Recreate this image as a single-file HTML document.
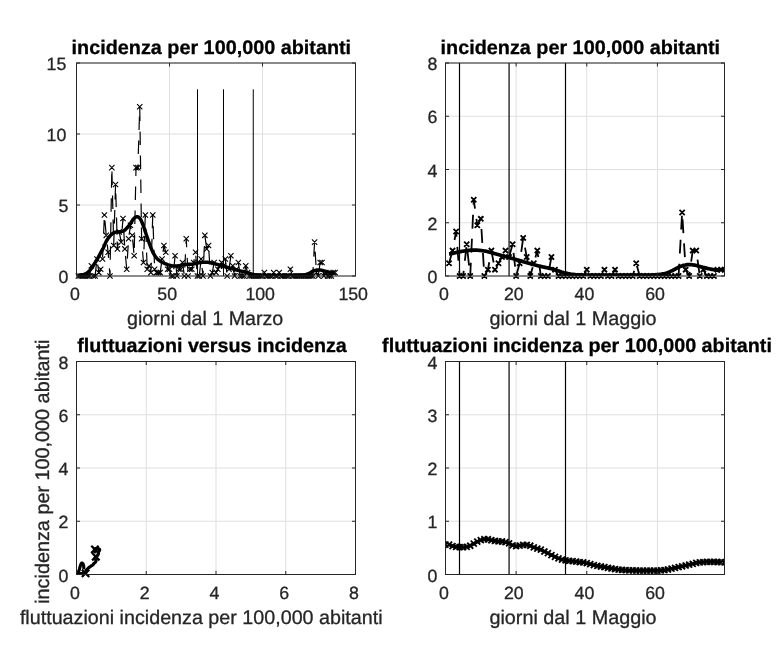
<!DOCTYPE html>
<html><head><meta charset="utf-8"><title>figure</title>
<style>html,body{margin:0;padding:0;background:#fff;}svg{display:block;will-change:transform;}text{font-family:"Liberation Sans",sans-serif;}</style></head>
<body>
<svg width="784" height="658" viewBox="0 0 784 658">
<rect width="784" height="658" fill="#fff"/>
<defs>
<clipPath id="c1"><rect x="76.50" y="63.00" width="279.00" height="213.00"/></clipPath>
<clipPath id="c2"><rect x="445.50" y="63.00" width="279.00" height="213.00"/></clipPath>
<clipPath id="c3"><rect x="76.50" y="361.50" width="279.00" height="213.00"/></clipPath>
<clipPath id="c4"><rect x="445.50" y="361.50" width="279.00" height="213.00"/></clipPath>
</defs>
<path d="M76.50 63.00 V276.00M169.50 63.00 V276.00M262.50 63.00 V276.00M355.50 63.00 V276.00M76.50 276.00 H355.50M76.50 205.00 H355.50M76.50 134.00 H355.50M76.50 63.00 H355.50" stroke="#dfdfdf" stroke-width="1" fill="none"/>
<path d="M445.50 63.00 V276.00M516.13 63.00 V276.00M586.77 63.00 V276.00M657.40 63.00 V276.00M445.50 276.00 H724.50M445.50 222.75 H724.50M445.50 169.50 H724.50M445.50 116.25 H724.50M445.50 63.00 H724.50" stroke="#dfdfdf" stroke-width="1" fill="none"/>
<path d="M76.50 361.50 V574.50M146.25 361.50 V574.50M216.00 361.50 V574.50M285.75 361.50 V574.50M355.50 361.50 V574.50M76.50 574.50 H355.50M76.50 521.25 H355.50M76.50 468.00 H355.50M76.50 414.75 H355.50M76.50 361.50 H355.50" stroke="#dfdfdf" stroke-width="1" fill="none"/>
<path d="M445.50 361.50 V574.50M516.13 361.50 V574.50M586.77 361.50 V574.50M657.40 361.50 V574.50M445.50 574.50 H724.50M445.50 521.25 H724.50M445.50 468.00 H724.50M445.50 414.75 H724.50M445.50 361.50 H724.50" stroke="#dfdfdf" stroke-width="1" fill="none"/>
<g clip-path="url(#c1)">
<path d="M78.36 276.00 L80.22 276.00 L82.08 276.00 L83.94 276.00 L85.80 276.00 L87.66 276.00 L89.52 276.00 L91.38 265.84 L93.24 276.00 L95.10 276.00 L96.96 259.07 L98.82 272.61 L100.68 269.23 L102.54 259.07 L104.40 215.04 L106.26 235.36 L108.12 252.29 L109.98 276.00 L111.84 167.63 L113.70 245.52 L115.56 184.56 L117.42 248.91 L119.28 231.97 L121.14 242.13 L123.00 218.43 L124.86 248.91 L126.72 269.23 L128.58 238.75 L130.44 225.20 L132.30 235.36 L134.16 255.68 L136.02 167.63 L137.88 167.63 L139.74 106.67 L141.60 238.75 L143.46 262.45 L145.32 215.04 L147.18 269.23 L149.04 265.84 L150.90 272.61 L152.76 215.04 L154.62 269.23 L156.48 272.61 L158.34 272.61 L160.20 272.61 L162.06 259.07 L163.92 245.52 L165.78 252.29 L167.64 269.23 L169.50 269.23 L171.36 276.00 L173.22 276.00 L175.08 255.68 L176.94 276.00 L178.80 269.23 L180.66 269.23 L182.52 262.45 L184.38 276.00 L186.24 238.75 L188.10 276.00 L189.96 269.23 L191.82 269.23 L193.68 262.45 L195.54 252.29 L197.40 276.00 L199.26 276.00 L201.12 259.07 L202.98 276.00 L204.84 235.36 L206.70 248.91 L208.56 245.52 L210.42 276.00 L212.28 272.61 L214.14 262.45 L216.00 272.61 L217.86 269.23 L219.72 265.84 L221.58 262.45 L223.44 265.84 L225.30 259.07 L227.16 276.00 L229.02 269.23 L230.88 255.68 L232.74 265.84 L234.60 276.00 L236.46 269.23 L238.32 262.45 L240.18 276.00 L242.04 276.00 L243.90 276.00 L245.76 265.84 L247.62 272.61 L249.48 276.00 L251.34 276.00 L253.20 276.00 L255.06 276.00 L256.92 276.00 L258.78 276.00 L260.64 276.00 L262.50 276.00 L264.36 272.61 L266.22 276.00 L268.08 276.00 L269.94 276.00 L271.80 276.00 L273.66 272.61 L275.52 276.00 L277.38 276.00 L279.24 272.61 L281.10 276.00 L282.96 276.00 L284.82 276.00 L286.68 276.00 L288.54 276.00 L290.40 269.23 L292.26 276.00 L294.12 276.00 L295.98 276.00 L297.84 276.00 L299.70 276.00 L301.56 276.00 L303.42 276.00 L305.28 276.00 L307.14 276.00 L309.00 276.00 L310.86 276.00 L312.72 276.00 L314.58 242.13 L316.44 272.61 L318.30 276.00 L320.16 262.45 L322.02 262.45 L323.88 276.00 L325.74 272.61 L327.60 276.00 L329.46 276.00 L331.32 276.00 L333.18 272.61 L335.04 272.61" stroke="#000" stroke-width="1.2" fill="none" stroke-dasharray="13.5 10.5" stroke-dashoffset="-8.2"/>
<path d="M78.36 275.72 L78.87 275.65 L79.39 275.57 L79.90 275.49 L80.41 275.40 L80.93 275.29 L81.44 275.17 L81.96 275.04 L82.47 274.90 L82.98 274.76 L83.50 274.60 L84.01 274.41 L84.52 274.19 L85.04 273.95 L85.55 273.71 L86.06 273.46 L86.58 273.17 L87.09 272.85 L87.61 272.49 L88.12 272.09 L88.63 271.63 L89.15 271.13 L89.66 270.58 L90.17 270.00 L90.69 269.37 L91.20 268.72 L91.71 268.03 L92.23 267.28 L92.74 266.49 L93.26 265.68 L93.77 264.85 L94.28 264.03 L94.80 263.20 L95.31 262.36 L95.82 261.51 L96.34 260.64 L96.85 259.78 L97.36 258.90 L97.88 258.02 L98.39 257.12 L98.91 256.21 L99.42 255.28 L99.93 254.30 L100.45 253.31 L100.96 252.31 L101.47 251.33 L101.99 250.38 L102.50 249.48 L103.01 248.58 L103.53 247.57 L104.04 246.40 L104.56 245.13 L105.07 243.86 L105.58 242.68 L106.10 241.67 L106.61 240.75 L107.12 239.88 L107.64 239.06 L108.15 238.30 L108.66 237.59 L109.18 236.93 L109.69 236.30 L110.21 235.70 L110.72 235.14 L111.23 234.62 L111.75 234.17 L112.26 233.79 L112.77 233.46 L113.29 233.15 L113.80 232.86 L114.32 232.62 L114.83 232.42 L115.34 232.27 L115.86 232.17 L116.37 232.09 L116.88 232.02 L117.40 231.96 L117.91 231.90 L118.42 231.83 L118.94 231.76 L119.45 231.69 L119.97 231.63 L120.48 231.57 L120.99 231.51 L121.51 231.43 L122.02 231.34 L122.53 231.24 L123.05 231.12 L123.56 230.92 L124.07 230.62 L124.59 230.26 L125.10 229.83 L125.62 229.36 L126.13 228.86 L126.64 228.36 L127.16 227.84 L127.67 227.24 L128.18 226.58 L128.70 225.88 L129.21 225.16 L129.72 224.43 L130.24 223.71 L130.75 223.00 L131.27 222.25 L131.78 221.45 L132.29 220.64 L132.81 219.85 L133.32 219.13 L133.83 218.52 L134.35 218.06 L134.86 217.69 L135.37 217.33 L135.89 217.02 L136.40 216.78 L136.92 216.66 L137.43 216.67 L137.94 216.84 L138.46 217.14 L138.97 217.53 L139.48 217.97 L140.00 218.48 L140.51 219.22 L141.02 220.18 L141.54 221.30 L142.05 222.52 L142.57 223.78 L143.08 225.03 L143.59 226.42 L144.11 227.93 L144.62 229.52 L145.13 231.13 L145.65 232.71 L146.16 234.23 L146.67 235.75 L147.19 237.28 L147.70 238.80 L148.22 240.30 L148.73 241.76 L149.24 243.17 L149.76 244.54 L150.27 245.91 L150.78 247.27 L151.30 248.59 L151.81 249.86 L152.32 251.05 L152.84 252.14 L153.35 253.12 L153.87 254.05 L154.38 254.92 L154.89 255.75 L155.41 256.52 L155.92 257.22 L156.43 257.85 L156.95 258.41 L157.46 258.92 L157.97 259.41 L158.49 259.85 L159.00 260.27 L159.52 260.66 L160.03 261.02 L160.54 261.36 L161.06 261.67 L161.57 261.98 L162.08 262.26 L162.60 262.53 L163.11 262.79 L163.62 263.03 L164.14 263.27 L164.65 263.49 L165.17 263.70 L165.68 263.90 L166.19 264.10 L166.71 264.29 L167.22 264.48 L167.73 264.65 L168.25 264.81 L168.76 264.97 L169.27 265.11 L169.79 265.23 L170.30 265.36 L170.82 265.49 L171.33 265.61 L171.84 265.73 L172.36 265.84 L172.87 265.93 L173.38 266.00 L173.90 266.05 L174.41 266.06 L174.92 266.05 L175.44 266.04 L175.95 266.01 L176.47 265.98 L176.98 265.94 L177.49 265.90 L178.01 265.85 L178.52 265.80 L179.03 265.75 L179.55 265.65 L180.06 265.53 L180.58 265.38 L181.09 265.22 L181.60 265.06 L182.12 264.91 L182.63 264.78 L183.14 264.68 L183.66 264.62 L184.17 264.58 L184.68 264.54 L185.20 264.50 L185.71 264.47 L186.23 264.44 L186.74 264.42 L187.25 264.39 L187.77 264.37 L188.28 264.35 L188.79 264.33 L189.31 264.31 L189.82 264.30 L190.33 264.28 L190.85 264.26 L191.36 264.24 L191.88 264.21 L192.39 264.16 L192.90 264.09 L193.42 263.99 L193.93 263.88 L194.44 263.75 L194.96 263.62 L195.47 263.49 L195.98 263.37 L196.50 263.25 L197.01 263.14 L197.53 263.06 L198.04 262.98 L198.55 262.89 L199.07 262.80 L199.58 262.72 L200.09 262.63 L200.61 262.55 L201.12 262.47 L201.63 262.40 L202.15 262.33 L202.66 262.28 L203.18 262.23 L203.69 262.19 L204.20 262.17 L204.72 262.16 L205.23 262.16 L205.74 262.17 L206.26 262.20 L206.77 262.23 L207.28 262.28 L207.80 262.33 L208.31 262.38 L208.83 262.44 L209.34 262.51 L209.85 262.58 L210.37 262.64 L210.88 262.73 L211.39 262.83 L211.91 262.96 L212.42 263.09 L212.93 263.24 L213.45 263.39 L213.96 263.53 L214.48 263.66 L214.99 263.80 L215.50 263.94 L216.02 264.08 L216.53 264.22 L217.04 264.37 L217.56 264.51 L218.07 264.66 L218.58 264.80 L219.10 264.95 L219.61 265.10 L220.13 265.25 L220.64 265.40 L221.15 265.54 L221.67 265.69 L222.18 265.84 L222.69 265.99 L223.21 266.14 L223.72 266.28 L224.23 266.43 L224.75 266.57 L225.26 266.72 L225.78 266.87 L226.29 267.02 L226.80 267.16 L227.32 267.31 L227.83 267.46 L228.34 267.60 L228.86 267.75 L229.37 267.90 L229.88 268.05 L230.40 268.19 L230.91 268.34 L231.43 268.49 L231.94 268.64 L232.45 268.79 L232.97 268.94 L233.48 269.10 L233.99 269.25 L234.51 269.40 L235.02 269.55 L235.53 269.70 L236.05 269.85 L236.56 269.99 L237.08 270.13 L237.59 270.27 L238.10 270.41 L238.62 270.54 L239.13 270.66 L239.64 270.78 L240.16 270.90 L240.67 271.01 L241.18 271.12 L241.70 271.23 L242.21 271.34 L242.73 271.45 L243.24 271.57 L243.75 271.68 L244.27 271.80 L244.78 271.92 L245.29 272.05 L245.81 272.18 L246.32 272.32 L246.83 272.47 L247.35 272.63 L247.86 272.79 L248.38 272.96 L248.89 273.13 L249.40 273.31 L249.92 273.48 L250.43 273.65 L250.94 273.81 L251.46 273.97 L251.97 274.12 L252.49 274.26 L253.00 274.39 L253.51 274.51 L254.03 274.63 L254.54 274.74 L255.05 274.85 L255.57 274.95 L256.08 275.03 L256.59 275.11 L257.11 275.17 L257.62 275.22 L258.14 275.27 L258.65 275.32 L259.16 275.36 L259.68 275.39 L260.19 275.42 L260.70 275.43 L261.22 275.45 L261.73 275.46 L262.24 275.47 L262.76 275.48 L263.27 275.49 L263.79 275.50 L264.30 275.51 L264.81 275.52 L265.33 275.53 L265.84 275.53 L266.35 275.54 L266.87 275.55 L267.38 275.55 L267.89 275.56 L268.41 275.56 L268.92 275.56 L269.44 275.57 L269.95 275.57 L270.46 275.57 L270.98 275.57 L271.49 275.57 L272.00 275.57 L272.52 275.57 L273.03 275.57 L273.54 275.57 L274.06 275.57 L274.57 275.57 L275.09 275.57 L275.60 275.57 L276.11 275.57 L276.63 275.57 L277.14 275.57 L277.65 275.57 L278.17 275.57 L278.68 275.57 L279.19 275.57 L279.71 275.57 L280.22 275.57 L280.74 275.57 L281.25 275.57 L281.76 275.57 L282.28 275.57 L282.79 275.57 L283.30 275.57 L283.82 275.57 L284.33 275.57 L284.84 275.57 L285.36 275.57 L285.87 275.57 L286.39 275.57 L286.90 275.57 L287.41 275.57 L287.93 275.57 L288.44 275.57 L288.95 275.57 L289.47 275.57 L289.98 275.57 L290.49 275.57 L291.01 275.56 L291.52 275.56 L292.04 275.56 L292.55 275.56 L293.06 275.55 L293.58 275.55 L294.09 275.54 L294.60 275.54 L295.12 275.53 L295.63 275.53 L296.14 275.52 L296.66 275.52 L297.17 275.51 L297.69 275.51 L298.20 275.50 L298.71 275.48 L299.23 275.46 L299.74 275.43 L300.25 275.39 L300.77 275.35 L301.28 275.31 L301.79 275.27 L302.31 275.22 L302.82 275.15 L303.34 275.08 L303.85 275.00 L304.36 274.91 L304.88 274.81 L305.39 274.70 L305.90 274.56 L306.42 274.39 L306.93 274.20 L307.44 273.99 L307.96 273.77 L308.47 273.54 L308.99 273.31 L309.50 273.06 L310.01 272.79 L310.53 272.49 L311.04 272.19 L311.55 271.90 L312.07 271.62 L312.58 271.37 L313.09 271.16 L313.61 270.94 L314.12 270.74 L314.64 270.56 L315.15 270.41 L315.66 270.29 L316.18 270.18 L316.69 270.07 L317.20 269.98 L317.72 269.92 L318.23 269.89 L318.75 269.90 L319.26 269.94 L319.77 269.99 L320.29 270.06 L320.80 270.14 L321.31 270.21 L321.83 270.32 L322.34 270.45 L322.85 270.60 L323.37 270.75 L323.88 270.89 L324.40 271.02 L324.91 271.16 L325.42 271.30 L325.94 271.44 L326.45 271.58 L326.96 271.71 L327.48 271.85 L327.99 271.98 L328.50 272.10 L329.02 272.21 L329.53 272.32 L330.05 272.42 L330.56 272.52 L331.07 272.62 L331.59 272.70 L332.10 272.79 L332.61 272.87 L333.13 272.94 L333.64 273.01 L334.15 273.07 L334.67 273.12" stroke="#000" stroke-width="3.5" fill="none" stroke-linejoin="round" stroke-linecap="butt"/>
<path d="M197.50 276.00 V89.27M223.50 276.00 V89.27M253.25 276.00 V89.27" stroke="#000" stroke-width="1" fill="none"/>
</g>
<path d="M75.71 273.35 l5.30 5.30 M75.71 278.65 l5.30 -5.30M77.57 273.35 l5.30 5.30 M77.57 278.65 l5.30 -5.30M79.43 273.35 l5.30 5.30 M79.43 278.65 l5.30 -5.30M81.29 273.35 l5.30 5.30 M81.29 278.65 l5.30 -5.30M83.15 273.35 l5.30 5.30 M83.15 278.65 l5.30 -5.30M85.01 273.35 l5.30 5.30 M85.01 278.65 l5.30 -5.30M86.87 273.35 l5.30 5.30 M86.87 278.65 l5.30 -5.30M88.73 263.19 l5.30 5.30 M88.73 268.49 l5.30 -5.30M90.59 273.35 l5.30 5.30 M90.59 278.65 l5.30 -5.30M92.45 273.35 l5.30 5.30 M92.45 278.65 l5.30 -5.30M94.31 256.42 l5.30 5.30 M94.31 261.72 l5.30 -5.30M96.17 269.96 l5.30 5.30 M96.17 275.26 l5.30 -5.30M98.03 266.58 l5.30 5.30 M98.03 271.88 l5.30 -5.30M99.89 256.42 l5.30 5.30 M99.89 261.72 l5.30 -5.30M101.75 212.39 l5.30 5.30 M101.75 217.69 l5.30 -5.30M103.61 232.71 l5.30 5.30 M103.61 238.01 l5.30 -5.30M105.47 249.64 l5.30 5.30 M105.47 254.94 l5.30 -5.30M107.33 273.35 l5.30 5.30 M107.33 278.65 l5.30 -5.30M109.19 164.98 l5.30 5.30 M109.19 170.28 l5.30 -5.30M111.05 242.87 l5.30 5.30 M111.05 248.17 l5.30 -5.30M112.91 181.91 l5.30 5.30 M112.91 187.21 l5.30 -5.30M114.77 246.26 l5.30 5.30 M114.77 251.56 l5.30 -5.30M116.63 229.32 l5.30 5.30 M116.63 234.62 l5.30 -5.30M118.49 239.48 l5.30 5.30 M118.49 244.78 l5.30 -5.30M120.35 215.78 l5.30 5.30 M120.35 221.08 l5.30 -5.30M122.21 246.26 l5.30 5.30 M122.21 251.56 l5.30 -5.30M124.07 266.58 l5.30 5.30 M124.07 271.88 l5.30 -5.30M125.93 236.10 l5.30 5.30 M125.93 241.40 l5.30 -5.30M127.79 222.55 l5.30 5.30 M127.79 227.85 l5.30 -5.30M129.65 232.71 l5.30 5.30 M129.65 238.01 l5.30 -5.30M131.51 253.03 l5.30 5.30 M131.51 258.33 l5.30 -5.30M133.37 164.98 l5.30 5.30 M133.37 170.28 l5.30 -5.30M135.23 164.98 l5.30 5.30 M135.23 170.28 l5.30 -5.30M137.09 104.02 l5.30 5.30 M137.09 109.32 l5.30 -5.30M138.95 236.10 l5.30 5.30 M138.95 241.40 l5.30 -5.30M140.81 259.80 l5.30 5.30 M140.81 265.10 l5.30 -5.30M142.67 212.39 l5.30 5.30 M142.67 217.69 l5.30 -5.30M144.53 266.58 l5.30 5.30 M144.53 271.88 l5.30 -5.30M146.39 263.19 l5.30 5.30 M146.39 268.49 l5.30 -5.30M148.25 269.96 l5.30 5.30 M148.25 275.26 l5.30 -5.30M150.11 212.39 l5.30 5.30 M150.11 217.69 l5.30 -5.30M151.97 266.58 l5.30 5.30 M151.97 271.88 l5.30 -5.30M153.83 269.96 l5.30 5.30 M153.83 275.26 l5.30 -5.30M155.69 269.96 l5.30 5.30 M155.69 275.26 l5.30 -5.30M157.55 269.96 l5.30 5.30 M157.55 275.26 l5.30 -5.30M159.41 256.42 l5.30 5.30 M159.41 261.72 l5.30 -5.30M161.27 242.87 l5.30 5.30 M161.27 248.17 l5.30 -5.30M163.13 249.64 l5.30 5.30 M163.13 254.94 l5.30 -5.30M164.99 266.58 l5.30 5.30 M164.99 271.88 l5.30 -5.30M166.85 266.58 l5.30 5.30 M166.85 271.88 l5.30 -5.30M168.71 273.35 l5.30 5.30 M168.71 278.65 l5.30 -5.30M170.57 273.35 l5.30 5.30 M170.57 278.65 l5.30 -5.30M172.43 253.03 l5.30 5.30 M172.43 258.33 l5.30 -5.30M174.29 273.35 l5.30 5.30 M174.29 278.65 l5.30 -5.30M176.15 266.58 l5.30 5.30 M176.15 271.88 l5.30 -5.30M178.01 266.58 l5.30 5.30 M178.01 271.88 l5.30 -5.30M179.87 259.80 l5.30 5.30 M179.87 265.10 l5.30 -5.30M181.73 273.35 l5.30 5.30 M181.73 278.65 l5.30 -5.30M183.59 236.10 l5.30 5.30 M183.59 241.40 l5.30 -5.30M185.45 273.35 l5.30 5.30 M185.45 278.65 l5.30 -5.30M187.31 266.58 l5.30 5.30 M187.31 271.88 l5.30 -5.30M189.17 266.58 l5.30 5.30 M189.17 271.88 l5.30 -5.30M191.03 259.80 l5.30 5.30 M191.03 265.10 l5.30 -5.30M192.89 249.64 l5.30 5.30 M192.89 254.94 l5.30 -5.30M194.75 273.35 l5.30 5.30 M194.75 278.65 l5.30 -5.30M196.61 273.35 l5.30 5.30 M196.61 278.65 l5.30 -5.30M198.47 256.42 l5.30 5.30 M198.47 261.72 l5.30 -5.30M200.33 273.35 l5.30 5.30 M200.33 278.65 l5.30 -5.30M202.19 232.71 l5.30 5.30 M202.19 238.01 l5.30 -5.30M204.05 246.26 l5.30 5.30 M204.05 251.56 l5.30 -5.30M205.91 242.87 l5.30 5.30 M205.91 248.17 l5.30 -5.30M207.77 273.35 l5.30 5.30 M207.77 278.65 l5.30 -5.30M209.63 269.96 l5.30 5.30 M209.63 275.26 l5.30 -5.30M211.49 259.80 l5.30 5.30 M211.49 265.10 l5.30 -5.30M213.35 269.96 l5.30 5.30 M213.35 275.26 l5.30 -5.30M215.21 266.58 l5.30 5.30 M215.21 271.88 l5.30 -5.30M217.07 263.19 l5.30 5.30 M217.07 268.49 l5.30 -5.30M218.93 259.80 l5.30 5.30 M218.93 265.10 l5.30 -5.30M220.79 263.19 l5.30 5.30 M220.79 268.49 l5.30 -5.30M222.65 256.42 l5.30 5.30 M222.65 261.72 l5.30 -5.30M224.51 273.35 l5.30 5.30 M224.51 278.65 l5.30 -5.30M226.37 266.58 l5.30 5.30 M226.37 271.88 l5.30 -5.30M228.23 253.03 l5.30 5.30 M228.23 258.33 l5.30 -5.30M230.09 263.19 l5.30 5.30 M230.09 268.49 l5.30 -5.30M231.95 273.35 l5.30 5.30 M231.95 278.65 l5.30 -5.30M233.81 266.58 l5.30 5.30 M233.81 271.88 l5.30 -5.30M235.67 259.80 l5.30 5.30 M235.67 265.10 l5.30 -5.30M237.53 273.35 l5.30 5.30 M237.53 278.65 l5.30 -5.30M239.39 273.35 l5.30 5.30 M239.39 278.65 l5.30 -5.30M241.25 273.35 l5.30 5.30 M241.25 278.65 l5.30 -5.30M243.11 263.19 l5.30 5.30 M243.11 268.49 l5.30 -5.30M244.97 269.96 l5.30 5.30 M244.97 275.26 l5.30 -5.30M246.83 273.35 l5.30 5.30 M246.83 278.65 l5.30 -5.30M248.69 273.35 l5.30 5.30 M248.69 278.65 l5.30 -5.30M250.55 273.35 l5.30 5.30 M250.55 278.65 l5.30 -5.30M252.41 273.35 l5.30 5.30 M252.41 278.65 l5.30 -5.30M254.27 273.35 l5.30 5.30 M254.27 278.65 l5.30 -5.30M256.13 273.35 l5.30 5.30 M256.13 278.65 l5.30 -5.30M257.99 273.35 l5.30 5.30 M257.99 278.65 l5.30 -5.30M259.85 273.35 l5.30 5.30 M259.85 278.65 l5.30 -5.30M261.71 269.96 l5.30 5.30 M261.71 275.26 l5.30 -5.30M263.57 273.35 l5.30 5.30 M263.57 278.65 l5.30 -5.30M265.43 273.35 l5.30 5.30 M265.43 278.65 l5.30 -5.30M267.29 273.35 l5.30 5.30 M267.29 278.65 l5.30 -5.30M269.15 273.35 l5.30 5.30 M269.15 278.65 l5.30 -5.30M271.01 269.96 l5.30 5.30 M271.01 275.26 l5.30 -5.30M272.87 273.35 l5.30 5.30 M272.87 278.65 l5.30 -5.30M274.73 273.35 l5.30 5.30 M274.73 278.65 l5.30 -5.30M276.59 269.96 l5.30 5.30 M276.59 275.26 l5.30 -5.30M278.45 273.35 l5.30 5.30 M278.45 278.65 l5.30 -5.30M280.31 273.35 l5.30 5.30 M280.31 278.65 l5.30 -5.30M282.17 273.35 l5.30 5.30 M282.17 278.65 l5.30 -5.30M284.03 273.35 l5.30 5.30 M284.03 278.65 l5.30 -5.30M285.89 273.35 l5.30 5.30 M285.89 278.65 l5.30 -5.30M287.75 266.58 l5.30 5.30 M287.75 271.88 l5.30 -5.30M289.61 273.35 l5.30 5.30 M289.61 278.65 l5.30 -5.30M291.47 273.35 l5.30 5.30 M291.47 278.65 l5.30 -5.30M293.33 273.35 l5.30 5.30 M293.33 278.65 l5.30 -5.30M295.19 273.35 l5.30 5.30 M295.19 278.65 l5.30 -5.30M297.05 273.35 l5.30 5.30 M297.05 278.65 l5.30 -5.30M298.91 273.35 l5.30 5.30 M298.91 278.65 l5.30 -5.30M300.77 273.35 l5.30 5.30 M300.77 278.65 l5.30 -5.30M302.63 273.35 l5.30 5.30 M302.63 278.65 l5.30 -5.30M304.49 273.35 l5.30 5.30 M304.49 278.65 l5.30 -5.30M306.35 273.35 l5.30 5.30 M306.35 278.65 l5.30 -5.30M308.21 273.35 l5.30 5.30 M308.21 278.65 l5.30 -5.30M310.07 273.35 l5.30 5.30 M310.07 278.65 l5.30 -5.30M311.93 239.48 l5.30 5.30 M311.93 244.78 l5.30 -5.30M313.79 269.96 l5.30 5.30 M313.79 275.26 l5.30 -5.30M315.65 273.35 l5.30 5.30 M315.65 278.65 l5.30 -5.30M317.51 259.80 l5.30 5.30 M317.51 265.10 l5.30 -5.30M319.37 259.80 l5.30 5.30 M319.37 265.10 l5.30 -5.30M321.23 273.35 l5.30 5.30 M321.23 278.65 l5.30 -5.30M323.09 269.96 l5.30 5.30 M323.09 275.26 l5.30 -5.30M324.95 273.35 l5.30 5.30 M324.95 278.65 l5.30 -5.30M326.81 273.35 l5.30 5.30 M326.81 278.65 l5.30 -5.30M328.67 273.35 l5.30 5.30 M328.67 278.65 l5.30 -5.30M330.53 269.96 l5.30 5.30 M330.53 275.26 l5.30 -5.30M332.39 269.96 l5.30 5.30 M332.39 275.26 l5.30 -5.30" stroke="#000" stroke-width="1.1" fill="none"/>
<g clip-path="url(#c2)">
<path d="M449.03 263.30 L452.56 250.60 L456.09 231.55 L459.63 276.00 L463.16 276.00 L466.69 244.25 L470.22 276.00 L473.75 199.80 L477.28 225.20 L480.82 218.85 L484.35 276.00 L487.88 269.65 L491.41 250.60 L494.94 269.65 L498.47 263.30 L502.01 256.95 L505.54 250.60 L509.07 256.95 L512.60 244.25 L516.13 276.00 L519.66 263.30 L523.20 237.90 L526.73 256.95 L530.26 276.00 L533.79 263.30 L537.32 250.60 L540.85 276.00 L544.39 276.00 L547.92 276.00 L551.45 256.95 L554.98 269.65 L558.51 276.00 L562.04 276.00 L565.58 276.00 L569.11 276.00 L572.64 276.00 L576.17 276.00 L579.70 276.00 L583.23 276.00 L586.77 269.65 L590.30 276.00 L593.83 276.00 L597.36 276.00 L600.89 276.00 L604.42 269.65 L607.96 276.00 L611.49 276.00 L615.02 269.65 L618.55 276.00 L622.08 276.00 L625.61 276.00 L629.15 276.00 L632.68 276.00 L636.21 263.30 L639.74 276.00 L643.27 276.00 L646.80 276.00 L650.34 276.00 L653.87 276.00 L657.40 276.00 L660.93 276.00 L664.46 276.00 L667.99 276.00 L671.53 276.00 L675.06 276.00 L678.59 276.00 L682.12 212.50 L685.65 269.65 L689.18 276.00 L692.72 250.60 L696.25 250.60 L699.78 276.00 L703.31 269.65 L706.84 276.00 L710.37 276.00 L713.91 276.00 L717.44 269.65 L720.97 269.65 L724.50 269.65" stroke="#000" stroke-width="1.8" fill="none" stroke-dasharray="13.8 10.2"/>
<path d="M721.90 267.05 l5.20 5.20 M721.90 272.25 l5.20 -5.20" stroke="#000" stroke-width="1.8" fill="none"/>
<path d="M449.03 253.90 L449.94 253.82 L450.84 253.70 L451.75 253.54 L452.66 253.35 L453.56 253.15 L454.47 252.93 L455.37 252.70 L456.28 252.47 L457.19 252.25 L458.09 252.05 L459.00 251.88 L459.90 251.73 L460.81 251.58 L461.71 251.44 L462.62 251.28 L463.53 251.13 L464.43 250.98 L465.34 250.84 L466.24 250.70 L467.15 250.57 L468.06 250.45 L468.96 250.34 L469.87 250.24 L470.77 250.16 L471.68 250.10 L472.59 250.06 L473.49 250.04 L474.40 250.05 L475.30 250.07 L476.21 250.11 L477.12 250.17 L478.02 250.24 L478.93 250.32 L479.83 250.41 L480.74 250.51 L481.65 250.62 L482.55 250.74 L483.46 250.85 L484.36 250.97 L485.27 251.12 L486.18 251.30 L487.08 251.52 L487.99 251.76 L488.89 252.01 L489.80 252.26 L490.71 252.52 L491.61 252.75 L492.52 252.99 L493.42 253.23 L494.33 253.47 L495.23 253.72 L496.14 253.97 L497.05 254.22 L497.95 254.47 L498.86 254.73 L499.76 254.98 L500.67 255.24 L501.58 255.50 L502.48 255.75 L503.39 256.01 L504.29 256.27 L505.20 256.53 L506.11 256.79 L507.01 257.05 L507.92 257.30 L508.82 257.56 L509.73 257.81 L510.64 258.07 L511.54 258.32 L512.45 258.58 L513.35 258.84 L514.26 259.09 L515.17 259.35 L516.07 259.61 L516.98 259.86 L517.88 260.12 L518.79 260.37 L519.70 260.63 L520.60 260.89 L521.51 261.14 L522.41 261.40 L523.32 261.66 L524.22 261.92 L525.13 262.18 L526.04 262.44 L526.94 262.70 L527.85 262.97 L528.75 263.24 L529.66 263.50 L530.57 263.76 L531.47 264.03 L532.38 264.28 L533.28 264.54 L534.19 264.79 L535.10 265.04 L536.00 265.28 L536.91 265.51 L537.81 265.74 L538.72 265.96 L539.63 266.17 L540.53 266.37 L541.44 266.57 L542.34 266.77 L543.25 266.96 L544.16 267.15 L545.06 267.34 L545.97 267.54 L546.87 267.73 L547.78 267.93 L548.69 268.14 L549.59 268.35 L550.50 268.57 L551.40 268.80 L552.31 269.04 L553.22 269.30 L554.12 269.57 L555.03 269.86 L555.93 270.15 L556.84 270.44 L557.74 270.74 L558.65 271.04 L559.56 271.34 L560.46 271.64 L561.37 271.92 L562.27 272.20 L563.18 272.46 L564.09 272.71 L564.99 272.93 L565.90 273.14 L566.80 273.35 L567.71 273.55 L568.62 273.74 L569.52 273.92 L570.43 274.09 L571.33 274.23 L572.24 274.36 L573.15 274.46 L574.05 274.55 L574.96 274.64 L575.86 274.72 L576.77 274.79 L577.68 274.85 L578.58 274.90 L579.49 274.93 L580.39 274.95 L581.30 274.97 L582.21 274.99 L583.11 275.01 L584.02 275.03 L584.92 275.05 L585.83 275.06 L586.74 275.08 L587.64 275.10 L588.55 275.11 L589.45 275.12 L590.36 275.13 L591.26 275.14 L592.17 275.15 L593.08 275.16 L593.98 275.17 L594.89 275.18 L595.79 275.19 L596.70 275.19 L597.61 275.19 L598.51 275.20 L599.42 275.20 L600.32 275.20 L601.23 275.20 L602.14 275.20 L603.04 275.20 L603.95 275.20 L604.85 275.20 L605.76 275.20 L606.67 275.20 L607.57 275.20 L608.48 275.20 L609.38 275.20 L610.29 275.20 L611.20 275.20 L612.10 275.20 L613.01 275.20 L613.91 275.20 L614.82 275.20 L615.73 275.20 L616.63 275.20 L617.54 275.20 L618.44 275.20 L619.35 275.20 L620.26 275.20 L621.16 275.20 L622.07 275.20 L622.97 275.20 L623.88 275.20 L624.78 275.20 L625.69 275.20 L626.60 275.20 L627.50 275.20 L628.41 275.20 L629.31 275.20 L630.22 275.20 L631.13 275.20 L632.03 275.20 L632.94 275.20 L633.84 275.20 L634.75 275.19 L635.66 275.19 L636.56 275.19 L637.47 275.18 L638.37 275.18 L639.28 275.17 L640.19 275.17 L641.09 275.16 L642.00 275.15 L642.90 275.15 L643.81 275.14 L644.72 275.13 L645.62 275.12 L646.53 275.11 L647.43 275.10 L648.34 275.09 L649.25 275.08 L650.15 275.07 L651.06 275.05 L651.96 275.03 L652.87 274.99 L653.77 274.94 L654.68 274.88 L655.59 274.81 L656.49 274.74 L657.40 274.67 L658.30 274.59 L659.21 274.49 L660.12 274.37 L661.02 274.24 L661.93 274.09 L662.83 273.93 L663.74 273.75 L664.65 273.56 L665.55 273.33 L666.46 273.04 L667.36 272.72 L668.27 272.36 L669.18 271.98 L670.08 271.58 L670.99 271.18 L671.89 270.77 L672.80 270.32 L673.71 269.83 L674.61 269.32 L675.52 268.79 L676.42 268.28 L677.33 267.80 L678.24 267.37 L679.14 266.98 L680.05 266.61 L680.95 266.25 L681.86 265.92 L682.77 265.63 L683.67 265.40 L684.58 265.20 L685.48 265.01 L686.39 264.84 L687.29 264.69 L688.20 264.59 L689.11 264.55 L690.01 264.57 L690.92 264.63 L691.82 264.72 L692.73 264.84 L693.64 264.96 L694.54 265.09 L695.45 265.26 L696.35 265.47 L697.26 265.71 L698.17 265.97 L699.07 266.23 L699.98 266.47 L700.88 266.70 L701.79 266.94 L702.70 267.18 L703.60 267.42 L704.51 267.66 L705.41 267.90 L706.32 268.14 L707.23 268.37 L708.13 268.59 L709.04 268.79 L709.94 268.99 L710.85 269.17 L711.76 269.35 L712.66 269.52 L713.57 269.68 L714.47 269.83 L715.38 269.98 L716.29 270.11 L717.19 270.24 L718.10 270.36 L719.00 270.47 L719.91 270.57" stroke="#000" stroke-width="3.7" fill="none" stroke-linejoin="round"/>
<path d="M459.50 63.00 V276.00M509.07 63.00 V276.00M565.50 63.00 V276.00" stroke="#000" stroke-width="1.2" fill="none"/>
</g>
<path d="M446.43 260.70 l5.20 5.20 M446.43 265.90 l5.20 -5.20M449.96 248.00 l5.20 5.20 M449.96 253.20 l5.20 -5.20M453.49 228.95 l5.20 5.20 M453.49 234.15 l5.20 -5.20M457.03 273.40 l5.20 5.20 M457.03 278.60 l5.20 -5.20M460.56 273.40 l5.20 5.20 M460.56 278.60 l5.20 -5.20M464.09 241.65 l5.20 5.20 M464.09 246.85 l5.20 -5.20M467.62 273.40 l5.20 5.20 M467.62 278.60 l5.20 -5.20M471.15 197.20 l5.20 5.20 M471.15 202.40 l5.20 -5.20M474.68 222.60 l5.20 5.20 M474.68 227.80 l5.20 -5.20M478.22 216.25 l5.20 5.20 M478.22 221.45 l5.20 -5.20M481.75 273.40 l5.20 5.20 M481.75 278.60 l5.20 -5.20M485.28 267.05 l5.20 5.20 M485.28 272.25 l5.20 -5.20M488.81 248.00 l5.20 5.20 M488.81 253.20 l5.20 -5.20M492.34 267.05 l5.20 5.20 M492.34 272.25 l5.20 -5.20M495.87 260.70 l5.20 5.20 M495.87 265.90 l5.20 -5.20M499.41 254.35 l5.20 5.20 M499.41 259.55 l5.20 -5.20M502.94 248.00 l5.20 5.20 M502.94 253.20 l5.20 -5.20M506.47 254.35 l5.20 5.20 M506.47 259.55 l5.20 -5.20M510.00 241.65 l5.20 5.20 M510.00 246.85 l5.20 -5.20M513.53 273.40 l5.20 5.20 M513.53 278.60 l5.20 -5.20M517.06 260.70 l5.20 5.20 M517.06 265.90 l5.20 -5.20M520.60 235.30 l5.20 5.20 M520.60 240.50 l5.20 -5.20M524.13 254.35 l5.20 5.20 M524.13 259.55 l5.20 -5.20M527.66 273.40 l5.20 5.20 M527.66 278.60 l5.20 -5.20M531.19 260.70 l5.20 5.20 M531.19 265.90 l5.20 -5.20M534.72 248.00 l5.20 5.20 M534.72 253.20 l5.20 -5.20M538.25 273.40 l5.20 5.20 M538.25 278.60 l5.20 -5.20M541.79 273.40 l5.20 5.20 M541.79 278.60 l5.20 -5.20M545.32 273.40 l5.20 5.20 M545.32 278.60 l5.20 -5.20M548.85 254.35 l5.20 5.20 M548.85 259.55 l5.20 -5.20M552.38 267.05 l5.20 5.20 M552.38 272.25 l5.20 -5.20M555.91 273.40 l5.20 5.20 M555.91 278.60 l5.20 -5.20M559.44 273.40 l5.20 5.20 M559.44 278.60 l5.20 -5.20M562.98 273.40 l5.20 5.20 M562.98 278.60 l5.20 -5.20M566.51 273.40 l5.20 5.20 M566.51 278.60 l5.20 -5.20M570.04 273.40 l5.20 5.20 M570.04 278.60 l5.20 -5.20M573.57 273.40 l5.20 5.20 M573.57 278.60 l5.20 -5.20M577.10 273.40 l5.20 5.20 M577.10 278.60 l5.20 -5.20M580.63 273.40 l5.20 5.20 M580.63 278.60 l5.20 -5.20M584.17 267.05 l5.20 5.20 M584.17 272.25 l5.20 -5.20M587.70 273.40 l5.20 5.20 M587.70 278.60 l5.20 -5.20M591.23 273.40 l5.20 5.20 M591.23 278.60 l5.20 -5.20M594.76 273.40 l5.20 5.20 M594.76 278.60 l5.20 -5.20M598.29 273.40 l5.20 5.20 M598.29 278.60 l5.20 -5.20M601.82 267.05 l5.20 5.20 M601.82 272.25 l5.20 -5.20M605.36 273.40 l5.20 5.20 M605.36 278.60 l5.20 -5.20M608.89 273.40 l5.20 5.20 M608.89 278.60 l5.20 -5.20M612.42 267.05 l5.20 5.20 M612.42 272.25 l5.20 -5.20M615.95 273.40 l5.20 5.20 M615.95 278.60 l5.20 -5.20M619.48 273.40 l5.20 5.20 M619.48 278.60 l5.20 -5.20M623.01 273.40 l5.20 5.20 M623.01 278.60 l5.20 -5.20M626.55 273.40 l5.20 5.20 M626.55 278.60 l5.20 -5.20M630.08 273.40 l5.20 5.20 M630.08 278.60 l5.20 -5.20M633.61 260.70 l5.20 5.20 M633.61 265.90 l5.20 -5.20M637.14 273.40 l5.20 5.20 M637.14 278.60 l5.20 -5.20M640.67 273.40 l5.20 5.20 M640.67 278.60 l5.20 -5.20M644.20 273.40 l5.20 5.20 M644.20 278.60 l5.20 -5.20M647.74 273.40 l5.20 5.20 M647.74 278.60 l5.20 -5.20M651.27 273.40 l5.20 5.20 M651.27 278.60 l5.20 -5.20M654.80 273.40 l5.20 5.20 M654.80 278.60 l5.20 -5.20M658.33 273.40 l5.20 5.20 M658.33 278.60 l5.20 -5.20M661.86 273.40 l5.20 5.20 M661.86 278.60 l5.20 -5.20M665.39 273.40 l5.20 5.20 M665.39 278.60 l5.20 -5.20M668.93 273.40 l5.20 5.20 M668.93 278.60 l5.20 -5.20M672.46 273.40 l5.20 5.20 M672.46 278.60 l5.20 -5.20M675.99 273.40 l5.20 5.20 M675.99 278.60 l5.20 -5.20M679.52 209.90 l5.20 5.20 M679.52 215.10 l5.20 -5.20M683.05 267.05 l5.20 5.20 M683.05 272.25 l5.20 -5.20M686.58 273.40 l5.20 5.20 M686.58 278.60 l5.20 -5.20M690.12 248.00 l5.20 5.20 M690.12 253.20 l5.20 -5.20M693.65 248.00 l5.20 5.20 M693.65 253.20 l5.20 -5.20M697.18 273.40 l5.20 5.20 M697.18 278.60 l5.20 -5.20M700.71 267.05 l5.20 5.20 M700.71 272.25 l5.20 -5.20M704.24 273.40 l5.20 5.20 M704.24 278.60 l5.20 -5.20M707.77 273.40 l5.20 5.20 M707.77 278.60 l5.20 -5.20M711.31 273.40 l5.20 5.20 M711.31 278.60 l5.20 -5.20M714.84 267.05 l5.20 5.20 M714.84 272.25 l5.20 -5.20M718.37 267.05 l5.20 5.20 M718.37 272.25 l5.20 -5.20" stroke="#000" stroke-width="1.8" fill="none"/>
<g clip-path="url(#c4)">
<path d="M449.03 544.57 L452.56 546.06 L456.09 546.81 L459.63 547.13 L463.16 547.13 L466.69 546.81 L470.22 545.75 L473.75 543.72 L477.28 541.70 L480.82 540.15 L484.35 539.25 L487.88 539.25 L491.41 540.26 L494.94 540.95 L498.47 541.27 L502.01 541.49 L505.54 542.02 L509.07 543.35 L512.60 545.48 L516.13 546.06 L519.66 545.59 L523.20 544.84 L526.73 544.84 L530.26 545.75 L533.79 547.40 L537.32 548.62 L540.85 549.69 L544.39 551.50 L547.92 553.20 L551.45 555.06 L554.98 556.82 L558.51 558.37 L562.04 559.59 L565.58 560.39 L569.11 560.92 L572.64 561.19 L576.17 561.61 L579.70 562.09 L583.23 562.47 L586.77 563.21 L590.30 564.12 L593.83 565.02 L597.36 565.80 L600.89 566.51 L604.42 567.19 L607.96 567.84 L611.49 568.49 L615.02 569.07 L618.55 569.56 L622.08 569.92 L625.61 570.14 L629.15 570.29 L632.68 570.41 L636.21 570.51 L639.74 570.60 L643.27 570.67 L646.80 570.70 L650.34 570.72 L653.87 570.67 L657.40 570.56 L660.93 570.39 L664.46 570.11 L667.99 569.51 L671.53 568.70 L675.06 567.88 L678.59 567.04 L682.12 566.28 L685.65 565.50 L689.18 564.64 L692.72 563.77 L696.25 562.94 L699.78 562.44 L703.31 562.10 L706.84 561.93 L710.37 561.93 L713.91 561.93 L717.44 562.00 L720.97 562.15" stroke="#000" stroke-width="3.3" fill="none" stroke-linejoin="round"/>
<path d="M442.50 541.57 l6.00 6.00 M442.50 547.57 l6.00 -6.00M446.03 541.57 l6.00 6.00 M446.03 547.57 l6.00 -6.00M449.56 543.06 l6.00 6.00 M449.56 549.06 l6.00 -6.00M453.09 543.81 l6.00 6.00 M453.09 549.81 l6.00 -6.00M456.63 544.13 l6.00 6.00 M456.63 550.13 l6.00 -6.00M460.16 544.13 l6.00 6.00 M460.16 550.13 l6.00 -6.00M463.69 543.81 l6.00 6.00 M463.69 549.81 l6.00 -6.00M467.22 542.75 l6.00 6.00 M467.22 548.75 l6.00 -6.00M470.75 540.72 l6.00 6.00 M470.75 546.72 l6.00 -6.00M474.28 538.70 l6.00 6.00 M474.28 544.70 l6.00 -6.00M477.82 537.15 l6.00 6.00 M477.82 543.15 l6.00 -6.00M481.35 536.25 l6.00 6.00 M481.35 542.25 l6.00 -6.00M484.88 536.25 l6.00 6.00 M484.88 542.25 l6.00 -6.00M488.41 537.26 l6.00 6.00 M488.41 543.26 l6.00 -6.00M491.94 537.95 l6.00 6.00 M491.94 543.95 l6.00 -6.00M495.47 538.27 l6.00 6.00 M495.47 544.27 l6.00 -6.00M499.01 538.49 l6.00 6.00 M499.01 544.49 l6.00 -6.00M502.54 539.02 l6.00 6.00 M502.54 545.02 l6.00 -6.00M506.07 540.35 l6.00 6.00 M506.07 546.35 l6.00 -6.00M509.60 542.48 l6.00 6.00 M509.60 548.48 l6.00 -6.00M513.13 543.06 l6.00 6.00 M513.13 549.06 l6.00 -6.00M516.66 542.59 l6.00 6.00 M516.66 548.59 l6.00 -6.00M520.20 541.84 l6.00 6.00 M520.20 547.84 l6.00 -6.00M523.73 541.84 l6.00 6.00 M523.73 547.84 l6.00 -6.00M527.26 542.75 l6.00 6.00 M527.26 548.75 l6.00 -6.00M530.79 544.40 l6.00 6.00 M530.79 550.40 l6.00 -6.00M534.32 545.62 l6.00 6.00 M534.32 551.62 l6.00 -6.00M537.85 546.69 l6.00 6.00 M537.85 552.69 l6.00 -6.00M541.39 548.50 l6.00 6.00 M541.39 554.50 l6.00 -6.00M544.92 550.20 l6.00 6.00 M544.92 556.20 l6.00 -6.00M548.45 552.06 l6.00 6.00 M548.45 558.06 l6.00 -6.00M551.98 553.82 l6.00 6.00 M551.98 559.82 l6.00 -6.00M555.51 555.37 l6.00 6.00 M555.51 561.37 l6.00 -6.00M559.04 556.59 l6.00 6.00 M559.04 562.59 l6.00 -6.00M562.58 557.39 l6.00 6.00 M562.58 563.39 l6.00 -6.00M566.11 557.92 l6.00 6.00 M566.11 563.92 l6.00 -6.00M569.64 558.19 l6.00 6.00 M569.64 564.19 l6.00 -6.00M573.17 558.61 l6.00 6.00 M573.17 564.61 l6.00 -6.00M576.70 559.09 l6.00 6.00 M576.70 565.09 l6.00 -6.00M580.23 559.47 l6.00 6.00 M580.23 565.47 l6.00 -6.00M583.77 560.21 l6.00 6.00 M583.77 566.21 l6.00 -6.00M587.30 561.12 l6.00 6.00 M587.30 567.12 l6.00 -6.00M590.83 562.02 l6.00 6.00 M590.83 568.02 l6.00 -6.00M594.36 562.80 l6.00 6.00 M594.36 568.80 l6.00 -6.00M597.89 563.51 l6.00 6.00 M597.89 569.51 l6.00 -6.00M601.42 564.19 l6.00 6.00 M601.42 570.19 l6.00 -6.00M604.96 564.84 l6.00 6.00 M604.96 570.84 l6.00 -6.00M608.49 565.49 l6.00 6.00 M608.49 571.49 l6.00 -6.00M612.02 566.07 l6.00 6.00 M612.02 572.07 l6.00 -6.00M615.55 566.56 l6.00 6.00 M615.55 572.56 l6.00 -6.00M619.08 566.92 l6.00 6.00 M619.08 572.92 l6.00 -6.00M622.61 567.14 l6.00 6.00 M622.61 573.14 l6.00 -6.00M626.15 567.29 l6.00 6.00 M626.15 573.29 l6.00 -6.00M629.68 567.41 l6.00 6.00 M629.68 573.41 l6.00 -6.00M633.21 567.51 l6.00 6.00 M633.21 573.51 l6.00 -6.00M636.74 567.60 l6.00 6.00 M636.74 573.60 l6.00 -6.00M640.27 567.67 l6.00 6.00 M640.27 573.67 l6.00 -6.00M643.80 567.70 l6.00 6.00 M643.80 573.70 l6.00 -6.00M647.34 567.72 l6.00 6.00 M647.34 573.72 l6.00 -6.00M650.87 567.67 l6.00 6.00 M650.87 573.67 l6.00 -6.00M654.40 567.56 l6.00 6.00 M654.40 573.56 l6.00 -6.00M657.93 567.39 l6.00 6.00 M657.93 573.39 l6.00 -6.00M661.46 567.11 l6.00 6.00 M661.46 573.11 l6.00 -6.00M664.99 566.51 l6.00 6.00 M664.99 572.51 l6.00 -6.00M668.53 565.70 l6.00 6.00 M668.53 571.70 l6.00 -6.00M672.06 564.88 l6.00 6.00 M672.06 570.88 l6.00 -6.00M675.59 564.04 l6.00 6.00 M675.59 570.04 l6.00 -6.00M679.12 563.28 l6.00 6.00 M679.12 569.28 l6.00 -6.00M682.65 562.50 l6.00 6.00 M682.65 568.50 l6.00 -6.00M686.18 561.64 l6.00 6.00 M686.18 567.64 l6.00 -6.00M689.72 560.77 l6.00 6.00 M689.72 566.77 l6.00 -6.00M693.25 559.94 l6.00 6.00 M693.25 565.94 l6.00 -6.00M696.78 559.44 l6.00 6.00 M696.78 565.44 l6.00 -6.00M700.31 559.10 l6.00 6.00 M700.31 565.10 l6.00 -6.00M703.84 558.93 l6.00 6.00 M703.84 564.93 l6.00 -6.00M707.37 558.93 l6.00 6.00 M707.37 564.93 l6.00 -6.00M710.91 558.93 l6.00 6.00 M710.91 564.93 l6.00 -6.00M714.44 559.00 l6.00 6.00 M714.44 565.00 l6.00 -6.00M717.97 559.15 l6.00 6.00 M717.97 565.15 l6.00 -6.00M721.50 559.44 l6.00 6.00 M721.50 565.44 l6.00 -6.00" stroke="#000" stroke-width="1.8" fill="none"/>
<path d="M459.50 361.50 V574.50M509.07 361.50 V574.50M565.50 361.50 V574.50" stroke="#000" stroke-width="1.2" fill="none"/>
</g>
<g clip-path="url(#c3)">
<path d="M96.10 552.40 L95.97 552.32 L95.67 552.20 L95.34 552.04 L95.10 551.85 L94.95 551.64 L94.81 551.42 L94.70 551.19 L94.62 550.97 L94.54 550.75 L94.48 550.55 L94.43 550.37 L94.43 550.22 L94.43 550.08 L94.43 549.93 L94.43 549.78 L94.43 549.62 L94.46 549.47 L94.52 549.33 L94.60 549.19 L94.70 549.06 L94.84 548.94 L95.04 548.83 L95.26 548.73 L95.52 548.66 L95.86 548.60 L96.23 548.56 L96.59 548.54 L96.94 548.55 L97.30 548.57 L97.65 548.62 L97.96 548.67 L98.26 548.74 L98.54 548.83 L98.79 548.92 L99.00 549.03 L99.21 549.14 L99.40 549.25 L99.54 549.37 L99.59 549.49 L99.59 549.65 L99.59 549.84 L99.59 550.06 L99.58 550.30 L99.46 550.55 L99.25 550.81 L99.03 551.06 L98.87 551.30 L98.73 551.54 L98.61 551.78 L98.51 552.02 L98.43 552.27 L98.37 552.52 L98.32 552.77 L98.28 553.03 L98.24 553.28 L98.21 553.54 L98.17 553.80 L98.13 554.05 L98.08 554.31 L98.00 554.57 L97.91 554.83 L97.79 555.09 L97.64 555.35 L97.43 555.61 L97.18 555.87 L96.91 556.13 L96.55 556.38 L96.13 556.64 L95.73 556.89 L95.49 557.15 L95.34 557.41 L95.22 557.66 L95.14 557.92 L95.13 558.18 L95.17 558.44 L95.26 558.69 L95.37 558.95 L95.48 559.21 L95.63 559.47 L95.79 559.72 L95.91 559.98 L95.93 560.24 L95.93 560.50 L95.93 560.76 L95.93 561.03 L95.90 561.29 L95.79 561.56 L95.60 561.83 L95.40 562.09 L95.17 562.36 L94.89 562.62 L94.58 562.88 L94.30 563.13 L94.07 563.38 L93.86 563.63 L93.66 563.87 L93.46 564.10 L93.28 564.32 L93.12 564.54 L92.95 564.75 L92.74 564.95 L92.48 565.15 L92.16 565.35 L91.83 565.54 L91.52 565.73 L91.23 565.92 L90.95 566.12 L90.66 566.32 L90.37 566.52 L90.06 566.73 L89.74 566.95 L89.42 567.17 L89.11 567.40 L88.81 567.65 L88.51 567.92 L88.22 568.20 L87.94 568.49 L87.67 568.78 L87.40 569.08 L87.16 569.38 L86.92 569.69 L86.70 569.98 L86.49 570.27 L86.31 570.56 L86.15 570.83 L86.00 571.08 L85.87 571.32 L85.76 571.54 L85.65 571.75 L85.55 571.95 L85.47 572.15 L85.39 572.34 L85.34 572.51 L85.30 572.67 L85.26 572.80 L85.21 572.91 L85.15 573.01 L85.08 573.10 L85.00 573.18 L84.92 573.26 L84.84 573.32 L84.76 573.38 L84.68 573.42 L84.60 573.44 L84.54 573.46 L84.49 573.48 L84.42 573.50 L84.34 573.52 L84.23 573.54 L84.10 573.56 L83.96 573.57 L83.81 573.59 L83.66 573.60 L83.51 573.62 L83.35 573.63 L83.20 573.64 L83.04 573.65 L82.88 573.66 L82.74 573.67 L82.60 573.68 L82.47 573.68 L82.34 573.69 L82.21 573.69 L82.09 573.70 L81.97 573.70 L81.85 573.70 L81.73 573.70 L81.61 573.70 L81.49 573.70 L81.38 573.70 L81.27 573.70 L81.16 573.70 L81.05 573.70 L80.94 573.70 L80.83 573.70 L80.72 573.70 L80.61 573.70 L80.50 573.70 L80.40 573.70 L80.29 573.70 L80.19 573.70 L80.10 573.70 L80.02 573.70 L79.93 573.70 L79.85 573.70 L79.77 573.70 L79.69 573.70 L79.62 573.70 L79.56 573.70 L79.51 573.70 L79.47 573.70 L79.43 573.70 L79.39 573.70 L79.36 573.70 L79.33 573.70 L79.30 573.70 L79.28 573.70 L79.26 573.70 L79.23 573.70 L79.21 573.70 L79.18 573.70 L79.15 573.70 L79.12 573.70 L79.08 573.69 L79.04 573.69 L79.00 573.69 L78.96 573.68 L78.92 573.68 L78.87 573.67 L78.82 573.67 L78.78 573.66 L78.73 573.65 L78.68 573.65 L78.64 573.64 L78.60 573.63 L78.55 573.62 L78.51 573.61 L78.46 573.60 L78.42 573.59 L78.38 573.58 L78.34 573.57 L78.30 573.56 L78.27 573.53 L78.25 573.49 L78.23 573.44 L78.21 573.38 L78.20 573.32 L78.19 573.25 L78.19 573.18 L78.18 573.09 L78.19 573.00 L78.20 572.88 L78.22 572.75 L78.25 572.61 L78.29 572.44 L78.33 572.27 L78.38 572.08 L78.46 571.85 L78.56 571.56 L78.67 571.24 L78.80 570.88 L78.94 570.50 L79.08 570.10 L79.22 569.70 L79.35 569.29 L79.48 568.84 L79.62 568.35 L79.76 567.83 L79.90 567.31 L80.05 566.79 L80.19 566.31 L80.33 565.87 L80.46 565.49 L80.59 565.11 L80.72 564.75 L80.85 564.42 L80.98 564.13 L81.10 563.90 L81.24 563.70 L81.37 563.51 L81.51 563.33 L81.65 563.19 L81.80 563.09 L81.95 563.05 L82.10 563.07 L82.25 563.13 L82.39 563.23 L82.54 563.34 L82.68 563.47 L82.83 563.60 L82.97 563.77 L83.09 563.99 L83.19 564.23 L83.28 564.49 L83.35 564.75 L83.42 564.98 L83.48 565.22 L83.54 565.46 L83.59 565.70 L83.64 565.94 L83.68 566.19 L83.71 566.43 L83.73 566.66 L83.73 566.89 L83.73 567.11 L83.73 567.32 L83.73 567.51 L83.73 567.69 L83.73 567.87 L83.73 568.04 L83.73 568.20 L83.73 568.35 L83.72 568.50 L83.71 568.63 L83.69 568.76 L83.67 568.88 L83.64 568.99 L83.62 569.09 L83.59 569.17" stroke="#000" stroke-width="3.2" fill="none" stroke-linejoin="round"/>
</g>
<path d="M91.25 545.70 l7.40 7.40 M91.25 553.10 l7.40 -7.40M92.10 552.95 l7.40 7.40 M92.10 560.35 l7.40 -7.40M81.87 569.60 l7.40 7.40 M81.87 577.00 l7.40 -7.40" stroke="#000" stroke-width="2.3" fill="none"/>
<path d="M76.50 276.00 v-3.50 M76.50 63.00 v3.50M169.50 276.00 v-3.50 M169.50 63.00 v3.50M262.50 276.00 v-3.50 M262.50 63.00 v3.50M355.50 276.00 v-3.50 M355.50 63.00 v3.50M76.50 276.00 h3.50 M355.50 276.00 h-3.50M76.50 205.00 h3.50 M355.50 205.00 h-3.50M76.50 134.00 h3.50 M355.50 134.00 h-3.50M76.50 63.00 h3.50 M355.50 63.00 h-3.50" stroke="#262626" stroke-width="1" fill="none"/>
<rect x="76.50" y="63.00" width="279.00" height="213.00" fill="none" stroke="#262626" stroke-width="1"/>
<path d="M445.50 276.00 v-3.50 M445.50 63.00 v3.50M516.13 276.00 v-3.50 M516.13 63.00 v3.50M586.77 276.00 v-3.50 M586.77 63.00 v3.50M657.40 276.00 v-3.50 M657.40 63.00 v3.50M445.50 276.00 h3.50 M724.50 276.00 h-3.50M445.50 222.75 h3.50 M724.50 222.75 h-3.50M445.50 169.50 h3.50 M724.50 169.50 h-3.50M445.50 116.25 h3.50 M724.50 116.25 h-3.50M445.50 63.00 h3.50 M724.50 63.00 h-3.50" stroke="#262626" stroke-width="1" fill="none"/>
<rect x="445.50" y="63.00" width="279.00" height="213.00" fill="none" stroke="#262626" stroke-width="1"/>
<path d="M76.50 574.50 v-3.50 M76.50 361.50 v3.50M146.25 574.50 v-3.50 M146.25 361.50 v3.50M216.00 574.50 v-3.50 M216.00 361.50 v3.50M285.75 574.50 v-3.50 M285.75 361.50 v3.50M355.50 574.50 v-3.50 M355.50 361.50 v3.50M76.50 574.50 h3.50 M355.50 574.50 h-3.50M76.50 521.25 h3.50 M355.50 521.25 h-3.50M76.50 468.00 h3.50 M355.50 468.00 h-3.50M76.50 414.75 h3.50 M355.50 414.75 h-3.50M76.50 361.50 h3.50 M355.50 361.50 h-3.50" stroke="#262626" stroke-width="1" fill="none"/>
<rect x="76.50" y="361.50" width="279.00" height="213.00" fill="none" stroke="#262626" stroke-width="1"/>
<path d="M445.50 574.50 v-3.50 M445.50 361.50 v3.50M516.13 574.50 v-3.50 M516.13 361.50 v3.50M586.77 574.50 v-3.50 M586.77 361.50 v3.50M657.40 574.50 v-3.50 M657.40 361.50 v3.50M445.50 574.50 h3.50 M724.50 574.50 h-3.50M445.50 521.25 h3.50 M724.50 521.25 h-3.50M445.50 468.00 h3.50 M724.50 468.00 h-3.50M445.50 414.75 h3.50 M724.50 414.75 h-3.50M445.50 361.50 h3.50 M724.50 361.50 h-3.50" stroke="#262626" stroke-width="1" fill="none"/>
<rect x="445.50" y="361.50" width="279.00" height="213.00" fill="none" stroke="#262626" stroke-width="1"/>
<g font-family="Liberation Sans, sans-serif" text-rendering="geometricPrecision">
<text x="75.00" y="300.00" font-size="17.75" text-anchor="middle" fill="#262626" stroke="#262626" stroke-width="0.3">0</text>
<text x="167.20" y="300.00" font-size="17.75" text-anchor="middle" fill="#262626" stroke="#262626" stroke-width="0.3">50</text>
<text x="260.20" y="300.00" font-size="17.75" text-anchor="middle" fill="#262626" stroke="#262626" stroke-width="0.3">100</text>
<text x="353.20" y="300.00" font-size="17.75" text-anchor="middle" fill="#262626" stroke="#262626" stroke-width="0.3">150</text>
<text x="68.30" y="283.00" font-size="17.75" text-anchor="end" fill="#262626" stroke="#262626" stroke-width="0.3">0</text>
<text x="68.30" y="212.00" font-size="17.75" text-anchor="end" fill="#262626" stroke="#262626" stroke-width="0.3">5</text>
<text x="46.60" y="141.00" font-size="17.75" text-anchor="start" fill="#262626" stroke="#262626" stroke-width="0.3">10</text>
<text x="46.60" y="70.00" font-size="17.75" text-anchor="start" fill="#262626" stroke="#262626" stroke-width="0.3">15</text>
<text x="444.00" y="300.00" font-size="17.75" text-anchor="middle" fill="#262626" stroke="#262626" stroke-width="0.3">0</text>
<text x="513.83" y="300.00" font-size="17.75" text-anchor="middle" fill="#262626" stroke="#262626" stroke-width="0.3">20</text>
<text x="584.47" y="300.00" font-size="17.75" text-anchor="middle" fill="#262626" stroke="#262626" stroke-width="0.3">40</text>
<text x="655.10" y="300.00" font-size="17.75" text-anchor="middle" fill="#262626" stroke="#262626" stroke-width="0.3">60</text>
<text x="437.30" y="283.00" font-size="17.75" text-anchor="end" fill="#262626" stroke="#262626" stroke-width="0.3">0</text>
<text x="437.30" y="230.00" font-size="17.75" text-anchor="end" fill="#262626" stroke="#262626" stroke-width="0.3">2</text>
<text x="437.30" y="177.00" font-size="17.75" text-anchor="end" fill="#262626" stroke="#262626" stroke-width="0.3">4</text>
<text x="437.30" y="123.00" font-size="17.75" text-anchor="end" fill="#262626" stroke="#262626" stroke-width="0.3">6</text>
<text x="437.30" y="70.00" font-size="17.75" text-anchor="end" fill="#262626" stroke="#262626" stroke-width="0.3">8</text>
<text x="75.00" y="599.00" font-size="17.75" text-anchor="middle" fill="#262626" stroke="#262626" stroke-width="0.3">0</text>
<text x="144.75" y="599.00" font-size="17.75" text-anchor="middle" fill="#262626" stroke="#262626" stroke-width="0.3">2</text>
<text x="214.50" y="599.00" font-size="17.75" text-anchor="middle" fill="#262626" stroke="#262626" stroke-width="0.3">4</text>
<text x="284.25" y="599.00" font-size="17.75" text-anchor="middle" fill="#262626" stroke="#262626" stroke-width="0.3">6</text>
<text x="354.00" y="599.00" font-size="17.75" text-anchor="middle" fill="#262626" stroke="#262626" stroke-width="0.3">8</text>
<text x="68.30" y="582.00" font-size="17.75" text-anchor="end" fill="#262626" stroke="#262626" stroke-width="0.3">0</text>
<text x="68.30" y="528.00" font-size="17.75" text-anchor="end" fill="#262626" stroke="#262626" stroke-width="0.3">2</text>
<text x="68.30" y="475.00" font-size="17.75" text-anchor="end" fill="#262626" stroke="#262626" stroke-width="0.3">4</text>
<text x="68.30" y="422.00" font-size="17.75" text-anchor="end" fill="#262626" stroke="#262626" stroke-width="0.3">6</text>
<text x="68.30" y="369.00" font-size="17.75" text-anchor="end" fill="#262626" stroke="#262626" stroke-width="0.3">8</text>
<text x="444.00" y="599.00" font-size="17.75" text-anchor="middle" fill="#262626" stroke="#262626" stroke-width="0.3">0</text>
<text x="513.83" y="599.00" font-size="17.75" text-anchor="middle" fill="#262626" stroke="#262626" stroke-width="0.3">20</text>
<text x="584.47" y="599.00" font-size="17.75" text-anchor="middle" fill="#262626" stroke="#262626" stroke-width="0.3">40</text>
<text x="655.10" y="599.00" font-size="17.75" text-anchor="middle" fill="#262626" stroke="#262626" stroke-width="0.3">60</text>
<text x="437.30" y="582.00" font-size="17.75" text-anchor="end" fill="#262626" stroke="#262626" stroke-width="0.3">0</text>
<text x="437.30" y="528.00" font-size="17.75" text-anchor="end" fill="#262626" stroke="#262626" stroke-width="0.3">1</text>
<text x="437.30" y="475.00" font-size="17.75" text-anchor="end" fill="#262626" stroke="#262626" stroke-width="0.3">2</text>
<text x="437.30" y="422.00" font-size="17.75" text-anchor="end" fill="#262626" stroke="#262626" stroke-width="0.3">3</text>
<text x="437.30" y="369.00" font-size="17.75" text-anchor="end" fill="#262626" stroke="#262626" stroke-width="0.3">4</text>
<text x="71.60" y="54.00" font-size="19.60" text-anchor="start" fill="#000" stroke="#000" stroke-width="0.3" font-weight="bold" textLength="279.50" lengthAdjust="spacingAndGlyphs">incidenza per 100,000 abitanti</text>
<text x="440.60" y="54.00" font-size="19.60" text-anchor="start" fill="#000" stroke="#000" stroke-width="0.3" font-weight="bold" textLength="279.50" lengthAdjust="spacingAndGlyphs">incidenza per 100,000 abitanti</text>
<text x="77.30" y="352.00" font-size="19.60" text-anchor="start" fill="#000" stroke="#000" stroke-width="0.3" font-weight="bold" textLength="269.50" lengthAdjust="spacingAndGlyphs">fluttuazioni versus incidenza</text>
<text x="382.10" y="352.00" font-size="19.60" text-anchor="start" fill="#000" stroke="#000" stroke-width="0.3" font-weight="bold" textLength="389.80" lengthAdjust="spacingAndGlyphs">fluttuazioni incidenza per 100,000 abitanti</text>
<text x="127.00" y="325.00" font-size="19.60" text-anchor="start" fill="#262626" stroke="#262626" stroke-width="0.3" textLength="156.30" lengthAdjust="spacingAndGlyphs">giorni dal 1 Marzo</text>
<text x="489.40" y="325.00" font-size="19.60" text-anchor="start" fill="#262626" stroke="#262626" stroke-width="0.3" textLength="167.20" lengthAdjust="spacingAndGlyphs">giorni dal 1 Maggio</text>
<text x="19.90" y="624.00" font-size="19.60" text-anchor="start" fill="#262626" stroke="#262626" stroke-width="0.3" textLength="362.70" lengthAdjust="spacingAndGlyphs">fluttuazioni incidenza per 100,000 abitanti</text>
<text x="489.40" y="624.00" font-size="19.60" text-anchor="start" fill="#262626" stroke="#262626" stroke-width="0.3" textLength="167.20" lengthAdjust="spacingAndGlyphs">giorni dal 1 Maggio</text>
<text x="49.00" y="603.80" font-size="19.60" text-anchor="start" fill="#262626" stroke="#262626" stroke-width="0.3" textLength="264.30" lengthAdjust="spacingAndGlyphs" transform="rotate(-90 49.00 603.80)">incidenza per 100,000 abitanti</text>
</g>
</svg>
</body></html>
